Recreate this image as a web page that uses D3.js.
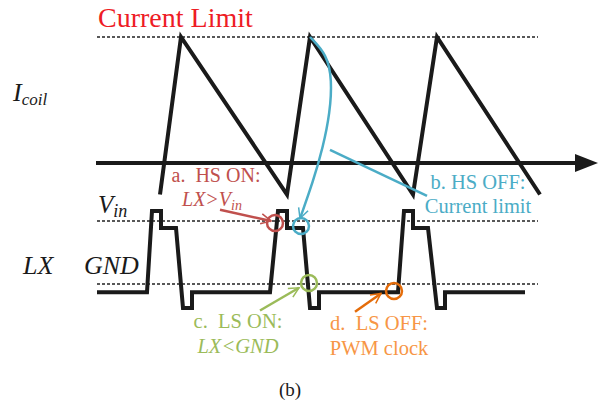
<!DOCTYPE html>
<html>
<head>
<meta charset="utf-8">
<script src="https://cdn.jsdelivr.net/npm/d3@7"></script>
</head>
<body style="margin:0">
<svg id="chart" width="614" height="408" font-family="Times New Roman"></svg>
<script>
// coil current (ramp up when HS on, ramp down after current limit)
var coilT = [63, 84, 190, 213, 316, 340, 443];
var coilI = [-0.5, 2, -0.5, 2, -0.5, 2, -0.5];

// LX node voltage
var lxT = [0, 50, 55, 64, 64, 79, 86, 95, 95, 173, 181, 190, 190, 206, 213, 222, 222, 301, 307, 316, 316, 331, 340, 348, 348, 428];
var lxV = [-0.65, -0.65, 5.8, 5.8, 4.45, 4.45, -1.9, -1.9, -0.65, -0.65, 5.8, 5.8, 4.45, 4.45, -1.9, -1.9, -0.65, -0.65, 5.8, 5.8, 4.45, 4.45, -1.9, -1.9, -0.65, -0.65];

var iLimit = 2;
var vin = 5;
var gnd = 0;
var refEnd = 441;

var svg = d3.select("#chart");

var x = d3.scaleLinear().domain([0, 500]).range([97, 597]);
var yI = d3.scaleLinear().domain([0, 2]).range([163, 37]);
var yV = d3.scaleLinear().domain([0, 5]).range([284, 221]);

var red = "#c0504d", blue = "#4bacc6", green = "#9bbb59", orange = "#e46c0a", orangeTxt = "#f79646";

// arrow heads
var defs = svg.append("defs");
[["red", red], ["blue", blue], ["green", green], ["orange", orange]].forEach(function (m) {
  defs.append("marker")
    .attr("id", "ah-" + m[0])
    .attr("viewBox", "0 0 10 10")
    .attr("refX", 9).attr("refY", 5)
    .attr("markerWidth", 5).attr("markerHeight", 5)
    .attr("markerUnits", "strokeWidth")
    .attr("orient", "auto")
    .append("path")
    .attr("d", "M1,1 L9,5 L1,9")
    .attr("fill", "none")
    .attr("stroke", m[1])
    .attr("stroke-width", 1.2);
});

// dashed reference lines
var refs = [yI(iLimit), yV(vin), yV(gnd)];
svg.selectAll("line.ref").data(refs).enter().append("line")
  .attr("class", "ref")
  .attr("x1", x(0)).attr("x2", x(refEnd))
  .attr("y1", function (d) { return d; }).attr("y2", function (d) { return d; })
  .attr("stroke", "#222").attr("stroke-width", 1.5)
  .attr("stroke-dasharray", "3,2");

// time axis with arrow
svg.append("line")
  .attr("x1", x(-1)).attr("x2", x(478))
  .attr("y1", yI(0)).attr("y2", yI(0))
  .attr("stroke", "#1a1a1a").attr("stroke-width", 4);
svg.append("path")
  .attr("d", "M" + x(478) + "," + (yI(0) - 9) + " L" + x(501) + "," + yI(0) + " L" + x(478) + "," + (yI(0) + 9) + " Z")
  .attr("fill", "#1a1a1a");

// coil current waveform
var coilPts = coilT.map(function (t, i) { return [x(t), yI(coilI[i])]; });
svg.append("path")
  .attr("d", d3.line()(coilPts))
  .attr("fill", "none").attr("stroke", "#1a1a1a")
  .attr("stroke-width", 4).attr("stroke-linejoin", "miter");

// LX waveform
var lxPts = lxT.map(function (t, i) { return [x(t), yV(lxV[i])]; });
svg.append("path")
  .attr("d", d3.line()(lxPts))
  .attr("fill", "none").attr("stroke", "#1a1a1a")
  .attr("stroke-width", 4).attr("stroke-linejoin", "miter");

// annotations
function circ(t, v, col) {
  svg.append("circle").attr("cx", x(t)).attr("cy", yV(v)).attr("r", 8)
    .attr("fill", "none").attr("stroke", col).attr("stroke-width", 2.5);
}
function arrow(p1, p2, col, name) {
  svg.append("line")
    .attr("x1", p1[0]).attr("y1", p1[1]).attr("x2", p2[0]).attr("y2", p2[1])
    .attr("stroke", col).attr("stroke-width", 2.5)
    .attr("marker-end", name ? "url(#ah-" + name + ")" : null);
}

// a. HS ON
circ(178, 4.84, red);
arrow([x(123), yV(5.9)], [x(174), yV(5.0)], red, "red");
// b. HS OFF
circ(204, 4.6, blue);
var bluePts = [[213, 2], [230, 1.72], [235, 1.32], [233, 0.8], [226, 0.25], [216, -0.3]];
svg.append("path")
  .attr("d", d3.line().curve(d3.curveBasis)(bluePts.map(function (p) { return [x(p[0]), yI(p[1])]; }).concat([[x(203), yV(5.2)]])))
  .attr("fill", "none").attr("stroke", blue).attr("stroke-width", 2.5)
  .attr("marker-end", "url(#ah-blue)");
arrow([x(233), yI(0.21)], [x(330), yV(7.0)], blue, null);
// c. LS ON
circ(212, 0.08, green);
arrow([x(163), yV(-2.1)], [x(202), yV(-0.3)], green, "green");
// d. LS OFF
circ(297, -0.55, orange);
arrow([x(258), yV(-2.2)], [x(284), yV(-0.75)], orange, "orange");

// labels, one row per text: [text, x, y, colour, size, anchor, italic, sub, subSize]
var labels = [
  ["Current Limit", 98, 27, "#ee1c25", 28, "start", false],
  ["I", 13, 101, "#1a1a1a", 26, "start", true, "coil", 17],
  ["V", 98, 213, "#1a1a1a", 25, "start", true, "in", 18],
  ["LX", 23, 274, "#1a1a1a", 26, "start", true],
  ["GND", 84, 274, "#1a1a1a", 26, "start", true],
  ["a.\u00a0 HS ON:", 216, 182, red, 20, "middle", false],
  ["LX>V", 212, 206, red, 20, "middle", true, "in", 14],
  ["b. HS OFF:", 478, 189, blue, 20.5, "middle", false],
  ["Current limit", 478, 213, blue, 20.5, "middle", false],
  ["c.\u00a0 LS ON:", 238, 328, green, 20.5, "middle", false],
  ["LX<GND", 238, 353, green, 20.5, "middle", true],
  ["d.\u00a0 LS OFF:", 379, 330, orangeTxt, 20.5, "middle", false],
  ["PWM clock", 379, 355, orangeTxt, 20.5, "middle", false],
  ["(b)", 290, 396, "#1a1a1a", 19, "middle", false]
];

var txt = svg.selectAll("text.lbl").data(labels).enter().append("text")
  .attr("class", "lbl")
  .attr("x", function (d) { return d[1]; })
  .attr("y", function (d) { return d[2]; })
  .attr("fill", function (d) { return d[3]; })
  .attr("font-size", function (d) { return d[4]; })
  .attr("text-anchor", function (d) { return d[5]; })
  .attr("font-family", "Times New Roman")
  .attr("font-style", function (d) { return d[6] ? "italic" : "normal"; })
  .text(function (d) { return d[0]; });
txt.filter(function (d) { return d[7]; })
  .append("tspan")
  .attr("font-size", function (d) { return d[8]; })
  .attr("dy", 4)
  .text(function (d) { return d[7]; });
</script>
</body>
</html>
